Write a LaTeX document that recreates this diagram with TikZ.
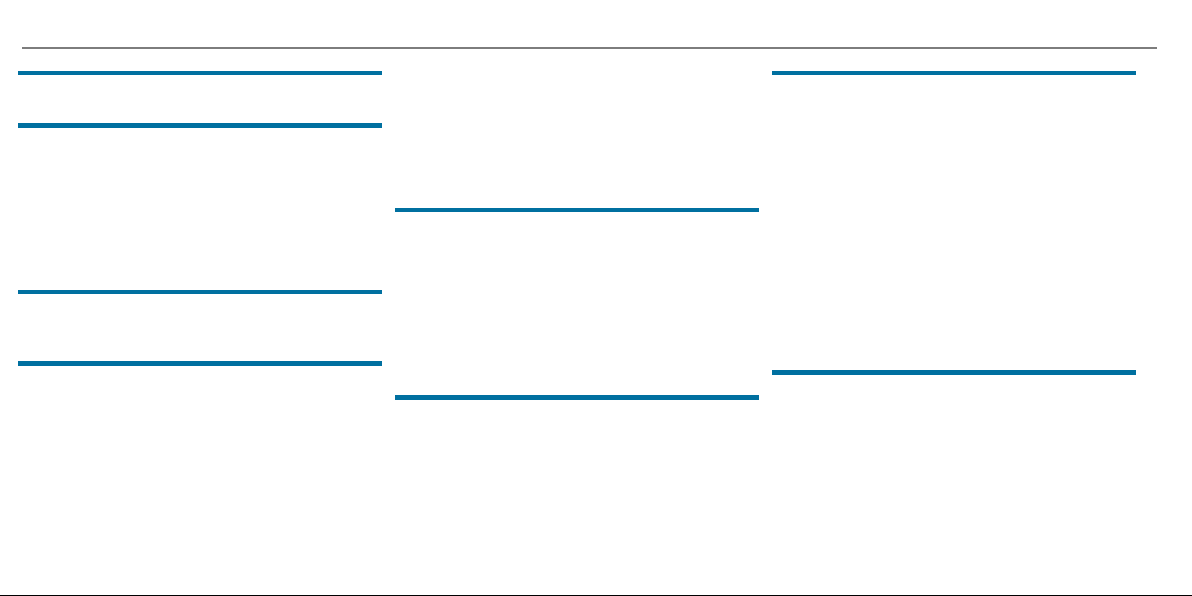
\documentclass[tikz,border=0pt]{standalone}
\definecolor{barblue}{RGB}{0,112,160}
\definecolor{rulegray}{RGB}{125,125,125}
\tikzset{
  bluebar/.style={draw=barblue, line width=4.5pt},
  toprule/.style={draw=rulegray, line width=2pt},
  bottomrule/.style={draw=black, line width=1pt}
}
\begin{document}
\begin{tikzpicture}[x=1pt,y=-1pt]
\useasboundingbox (0,0) rectangle (1192,596);
\fill[white] (0,0) rectangle (1192,596);
% top gray rule
\draw[toprule] (22,47.8) -- (1157,47.8);
% column 1
\draw[bluebar] (18,73) -- (382,73);
\draw[bluebar] (18,125.5) -- (382,125.5);
\draw[bluebar] (18,292) -- (382,292);
\draw[bluebar] (18,363.5) -- (382,363.5);
% column 2
\draw[bluebar] (395,210) -- (759,210);
\draw[bluebar] (395,397.5) -- (759,397.5);
% column 3
\draw[bluebar] (772,73) -- (1136,73);
\draw[bluebar] (772,372.5) -- (1136,372.5);
% bottom edge line
\draw[bottomrule] (0,595.5) -- (1192,595.5);
\end{tikzpicture}
\end{document}
